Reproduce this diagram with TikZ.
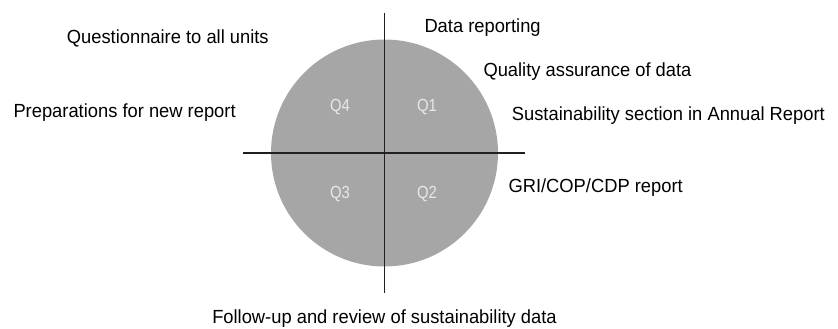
\documentclass[tikz,border=0pt]{standalone}
\usepackage{fontspec}
\setmainfont[FakeStretch=0.965]{Liberation Sans}
\newfontfamily\quarterfont[FakeStretch=0.85]{Liberation Sans}
\definecolor{wheelgrey}{HTML}{A6A6A6}
\definecolor{qgrey}{HTML}{E8E8E8}
\definecolor{axisblack}{HTML}{231F20}
\begin{document}
\begin{tikzpicture}[x=1pt,y=-1pt,
  lbl/.style={anchor=base west,inner sep=0pt,font=\fontsize{19}{22}\selectfont},
  qlbl/.style={anchor=base,inner sep=0pt,text=qgrey,font=\quarterfont\fontsize{17.5}{20}\selectfont},
  axis/.style={draw=axisblack,line width=1.1pt}]
\useasboundingbox (0,0) rectangle (838,329);

% wheel
\fill[wheelgrey] (384.5,153) circle (113.5);
\coordinate (top) at (384.5,13);
\coordinate (bottom) at (384.5,293);
\coordinate (left) at (243,153);
\coordinate (right) at (525,153);
\draw[axis] (top) -- (bottom);
\draw[axis] (left) -- (right);

% quarters
\node[qlbl] (q4) at (340,111.7) {Q4};
\node[qlbl] (q1) at (427,111.7) {Q1};
\node[qlbl] (q3) at (340,198) {Q3};
\node[qlbl] (q2) at (427,198) {Q2};

% activities
\node[lbl] (quest) at (66.7,43.5) {Questionnaire to all units};
\node[lbl] (prep) at (13.3,117) {Preparations for new report};
\node[lbl] (datarep) at (424.3,33) {Data reporting};
\node[lbl] (quality) at (483.3,77) {Quality assurance of data};
\node[lbl] (annual) at (511.7,120) {Sustainability section in Annual Report};
\node[lbl] (gri) at (508.3,192.5) {GRI/COP/CDP report};
\node[lbl,anchor=base] (follow) at (384.5,323) {Follow-up and review of sustainability data};
\end{tikzpicture}
\end{document}
